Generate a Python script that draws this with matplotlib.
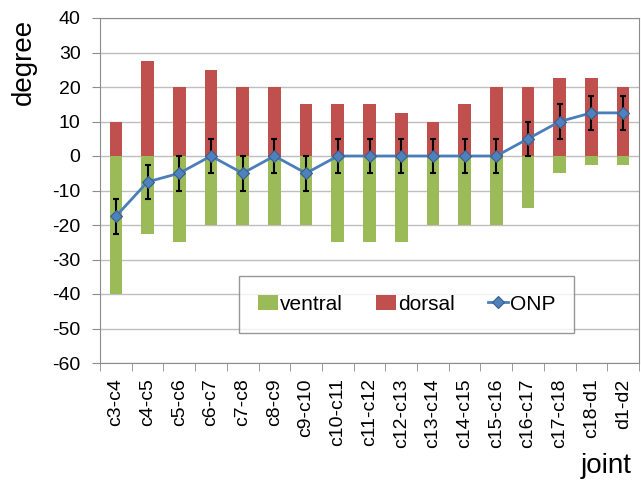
import numpy as np
import matplotlib.pyplot as plt

plt.rcParams['font.family'] = ['Liberation Sans', 'DejaVu Sans']
plt.rcParams['axes.unicode_minus'] = False

joints = ["c3-c4", "c4-c5", "c5-c6", "c6-c7", "c7-c8", "c8-c9", "c9-c10",
          "c10-c11", "c11-c12", "c12-c13", "c13-c14", "c14-c15", "c15-c16",
          "c16-c17", "c17-c18", "c18-d1", "d1-d2"]
ventral = [-40, -22.5, -25, -20, -20, -20, -20, -25, -25, -25, -20, -20, -20,
           -15, -5, -2.5, -2.5]
dorsal = [10, 27.5, 20, 25, 20, 20, 15, 15, 15, 12.5, 10, 15, 20, 20, 22.5,
          22.5, 20]
onp = [-17.5, -7.5, -5, 0, -5, 0, -5, 0, 0, 0, 0, 0, 0, 5, 10, 12.5, 12.5]
onp_err = [5] * 17

x = np.arange(len(joints))

fig = plt.figure(figsize=(6.41, 4.84), dpi=100)
ax = fig.add_axes([100/641, (484-363)/484, 539/641, 345/484])

b1 = ax.bar(x, ventral, width=0.4, color="#9BBB59", label="ventral", zorder=2)
b2 = ax.bar(x, dorsal, width=0.4, color="#C0504D", label="dorsal", zorder=2)
ax.errorbar(x, onp, yerr=onp_err, fmt="none", ecolor="black", elinewidth=1.5,
            capsize=2.5, capthick=1.5, zorder=3)
l1, = ax.plot(x, onp, color="#4A7EBB", lw=2, marker="D", ms=6,
              mfc="#4F81BD", mec="#385D8A", mew=0.8, label="ONP", zorder=4)

ax.set_xlim(-0.5, len(joints) - 0.5)
ax.set_ylim(-60, 40)
ax.set_yticks(np.arange(-60, 41, 10))
ax.yaxis.grid(True, color="#BEBEBE", lw=1)
ax.set_axisbelow(True)

ax.set_xticks(x)
ax.set_xticklabels(joints, rotation=90, fontsize=14)
ax.set_xticks(np.arange(-0.5, len(joints), 1), minor=True)
ax.tick_params(axis="x", which="major", length=0, pad=11)
ax.tick_params(axis="x", which="minor", length=6, color="#8C8C8C")
ax.tick_params(axis="y", length=6, pad=8, color="#8C8C8C", labelsize=14)

for sp in ax.spines.values():
    sp.set_color("#8C8C8C")

fig.text(24/641, 1 - 62/484, "degree", rotation=90, ha="center",
         va="center", fontsize=20)
fig.text(632/641, 11/484, "joint", ha="right", va="baseline", fontsize=20)

leg = ax.legend([b1, b2, l1], ["ventral", "dorsal", "ONP"], ncol=3,
                loc="upper left", bbox_to_anchor=(139/539, 87/345),
                fontsize=15, frameon=True, fancybox=False, handlelength=0.95,
                handletextpad=0.1, columnspacing=1.6, borderpad=0.9,
                borderaxespad=0)
leg.get_frame().set_edgecolor("#7F7F7F")
leg.get_frame().set_linewidth(1)

fig.savefig("out.png", dpi=100)
